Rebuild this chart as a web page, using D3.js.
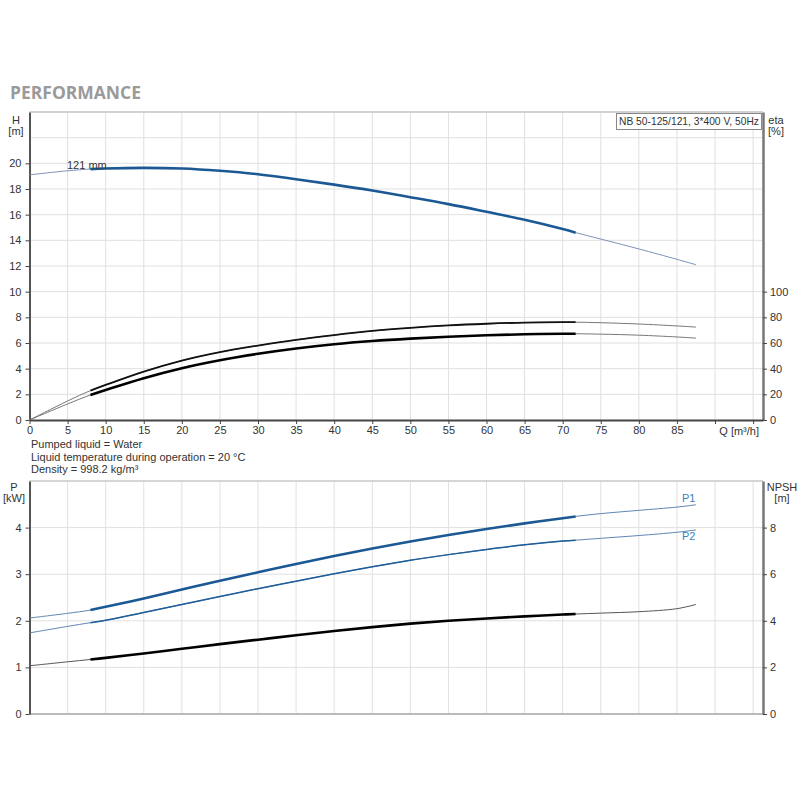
<!DOCTYPE html>
<html>
<head>
<meta charset="utf-8">
<script src="https://cdn.jsdelivr.net/npm/d3@7"></script>
<style>
    body { margin: 0; background: #fff; }
    svg { font-family: "Liberation Sans", Arial, sans-serif; }
    .tick text { font-size: 11px; fill: #333; }
    .lbl { font-size: 11px; fill: #333; }
    .grid line { stroke: #e0e0e0; stroke-width: 1; }
</style>
</head>
<body>
<svg id="chart" width="800" height="800"></svg>
<script>
    // flow points (m3/h)
    const flow = [0, 5, 8, 10, 15, 20, 25, 30, 35, 40, 45, 50, 55, 60, 65, 70, 71.7, 75, 80, 85, 87.5];
    // head (m)
    const head = [19.1, 19.42, 19.55, 19.6, 19.65, 19.6, 19.42, 19.15, 18.76, 18.34, 17.88, 17.36, 16.82, 16.22, 15.6, 14.88, 14.6, 14.1, 13.33, 12.52, 12.1];
    // efficiencies (%)
    const etaPump = [0, 14.8, 22.9, 27.3, 37.7, 46.3, 52.9, 58, 62.5, 66.2, 69.4, 71.8, 73.7, 75.0, 75.9, 76.2, 76.2, 75.8, 74.8, 73.3, 72.4];
    const etaTotal = [0, 12.5, 19.5, 23.4, 32.6, 40.4, 46.6, 51.6, 55.7, 59.0, 61.5, 63.4, 64.9, 66.0, 66.8, 67.2, 67.2, 66.9, 66.1, 64.7, 63.8];
    // power (kW)
    const powerP1 = [2.06, 2.16, 2.23, 2.3, 2.48, 2.67, 2.86, 3.04, 3.22, 3.39, 3.55, 3.7, 3.84, 3.97, 4.09, 4.2, 4.24, 4.3, 4.37, 4.44, 4.49];
    const powerP2 = [1.74, 1.88, 1.96, 2.01, 2.18, 2.35, 2.52, 2.69, 2.85, 3.01, 3.16, 3.3, 3.42, 3.53, 3.63, 3.71, 3.73, 3.77, 3.83, 3.9, 3.95];
    // NPSH (m)
    const npsh = [2.07, 2.24, 2.34, 2.41, 2.6, 2.8, 3.0, 3.19, 3.38, 3.56, 3.73, 3.88, 4.0, 4.1, 4.19, 4.27, 4.29, 4.33, 4.39, 4.52, 4.7];

    const qTicks = d3.range(0, 100, 5);
    const qLabels = d3.range(0, 90, 5);
    const hTicks = d3.range(0, 22, 2);
    const etaTicks = d3.range(0, 120, 20);
    const pTicks = [0, 1, 2, 3, 4];
    const npshTicks = [0, 2, 4, 6, 8];
    const dutyRange = [8, 71.7];

    const svg = d3.select('#chart');

    const x = d3.scaleLinear().domain([0, 96.3]).range([29.5, 763]);
    const yH = d3.scaleLinear().domain([0, 24]).range([420, 112]);
    const yEta = d3.scaleLinear().domain([0, 240]).range([420, 112]);
    const yP = d3.scaleLinear().domain([0, 5]).range([714, 481]);
    const yN = d3.scaleLinear().domain([0, 10]).range([714, 481]);

    svg.append('text')
        .attr('x', 10).attr('y', 99)
        .attr('textLength', 131).attr('lengthAdjust', 'spacingAndGlyphs')
        .style('font-family', '"Open Sans", sans-serif')
        .style('font-weight', 700)
        .style('font-size', '18px')
        .style('fill', '#9a9a9a')
        .text('PERFORMANCE');

    function frame(y, hGrid, top, bottom) {
        const g = svg.append('g').attr('class', 'grid');
        g.selectAll('.v').data(qTicks.slice(1)).enter().append('line')
            .attr('x1', d => x(d)).attr('x2', d => x(d))
            .attr('y1', top).attr('y2', bottom);
        g.selectAll('.h').data(hGrid).enter().append('line')
            .attr('x1', x(0)).attr('x2', x(96.3))
            .attr('y1', d => y(d)).attr('y2', d => y(d));
        svg.append('line')
            .attr('x1', x(0)).attr('x2', x(96.3)).attr('y1', top).attr('y2', top)
            .attr('stroke', '#c8c8c8').attr('stroke-width', 1.5);
    }

    function styleAxis(g, color, width) {
        g.select('.domain').attr('stroke', color).attr('stroke-width', width);
        g.selectAll('.tick line').attr('stroke', '#444');
    }

    // ---------- top chart ----------
    frame(yH, d3.range(2, 26, 2), 112, 420);

    const axH = svg.append('g').attr('transform', `translate(${x(0)},0)`)
        .call(d3.axisLeft(yH).tickValues(hTicks).tickSize(4).tickSizeOuter(0).tickPadding(4));
    styleAxis(axH, '#555', 2);

    const axEta = svg.append('g').attr('transform', `translate(${x(96.3)},0)`)
        .call(d3.axisRight(yEta).tickValues(etaTicks).tickSize(4).tickSizeOuter(0).tickPadding(3));
    styleAxis(axEta, '#777', 2.5);

    const axQ = svg.append('g').attr('transform', `translate(0,${yH(0)})`)
        .call(d3.axisBottom(x).tickValues(qTicks).tickSize(4).tickSizeOuter(0).tickPadding(2)
            .tickFormat(d => qLabels.includes(d) ? d : ''));
    styleAxis(axQ, '#444', 2);

    svg.append('text').attr('class', 'lbl').attr('x', 759).attr('y', 435)
        .attr('text-anchor', 'end').text('Q [m³/h]');

    svg.append('text').attr('class', 'lbl').attr('x', 16).attr('y', 124).attr('text-anchor', 'middle').text('H');
    svg.append('text').attr('class', 'lbl').attr('x', 16).attr('y', 135).attr('text-anchor', 'middle').text('[m]');
    svg.append('text').attr('class', 'lbl').attr('x', 776).attr('y', 124).attr('text-anchor', 'middle').text('eta');
    svg.append('text').attr('class', 'lbl').attr('x', 776).attr('y', 135).attr('text-anchor', 'middle').text('[%]');

    // legend box
    svg.append('rect').attr('x', 616.5).attr('y', 113.5).attr('width', 145).attr('height', 16)
        .attr('fill', '#fff').attr('stroke', '#888').attr('stroke-width', 1);
    svg.append('text').attr('class', 'lbl').attr('x', 619).attr('y', 125)
        .attr('textLength', 140).attr('lengthAdjust', 'spacingAndGlyphs')
        .text('NB 50-125/121, 3*400 V, 50Hz');

    function curve(values, y, thinColor, thinWidth, boldColor, boldWidth) {
        const pts = flow.map((q, i) => [q, values[i]]);
        const line = d3.line().x(d => x(d[0])).y(d => y(d[1])).curve(d3.curveCatmullRom.alpha(0.5));
        svg.append('path').attr('d', line(pts)).attr('fill', 'none')
            .attr('stroke', thinColor).attr('stroke-width', thinWidth);
        const duty = pts.filter(d => d[0] >= dutyRange[0] && d[0] <= dutyRange[1]);
        svg.append('path').attr('d', line(duty)).attr('fill', 'none')
            .attr('stroke', boldColor).attr('stroke-width', boldWidth).attr('stroke-linecap', 'butt');
    }

    curve(head, yH, '#7d93b8', 1, '#1b5894', 2.6);
    curve(etaPump, yEta, '#777', 1, '#111', 1.8);
    curve(etaTotal, yEta, '#777', 1, '#000', 2.6);

    svg.append('text').attr('class', 'lbl').attr('x', 67).attr('y', 169).text('121 mm');

    // notes
    const notes = ['Pumped liquid = Water', 'Liquid temperature during operation = 20 °C', 'Density = 998.2 kg/m³'];
    svg.selectAll('.note').data(notes).enter().append('text')
        .attr('class', 'lbl').attr('x', 31).attr('y', (d, i) => 448 + i * 12.7).text(d => d);

    // ---------- bottom chart ----------
    frame(yP, [1, 2, 3, 4], 481, 714);

    svg.append('line').attr('x1', x(0)).attr('x2', x(96.3)).attr('y1', 714).attr('y2', 714)
        .attr('stroke', '#bbb').attr('stroke-width', 2);

    const axP = svg.append('g').attr('transform', `translate(${x(0)},0)`)
        .call(d3.axisLeft(yP).tickValues(pTicks).tickSize(4).tickSizeOuter(0).tickPadding(4)
            .tickFormat(d3.format('d')));
    styleAxis(axP, '#555', 2);

    const axN = svg.append('g').attr('transform', `translate(${x(96.3)},0)`)
        .call(d3.axisRight(yN).tickValues(npshTicks).tickSize(4).tickSizeOuter(0).tickPadding(3));
    styleAxis(axN, '#777', 2.5);

    svg.append('text').attr('class', 'lbl').attr('x', 14).attr('y', 491).attr('text-anchor', 'middle').text('P');
    svg.append('text').attr('class', 'lbl').attr('x', 14).attr('y', 502).attr('text-anchor', 'middle').text('[kW]');
    svg.append('text').attr('class', 'lbl').attr('x', 782).attr('y', 491).attr('text-anchor', 'middle').text('NPSH');
    svg.append('text').attr('class', 'lbl').attr('x', 782).attr('y', 502).attr('text-anchor', 'middle').text('[m]');

    curve(powerP1, yP, '#5f86b3', 1, '#1b5894', 2.6);
    curve(powerP2, yP, '#5f86b3', 1, '#1f5d99', 1.5);
    curve(npsh, yN, '#555', 1, '#000', 2.6);

    svg.append('text').attr('class', 'lbl').attr('x', 682).attr('y', 502)
        .style('fill', '#3b7fb8').text('P1');
    svg.append('text').attr('class', 'lbl').attr('x', 682).attr('y', 540)
        .style('fill', '#3b7fb8').text('P2');
</script>
</body>
</html>
